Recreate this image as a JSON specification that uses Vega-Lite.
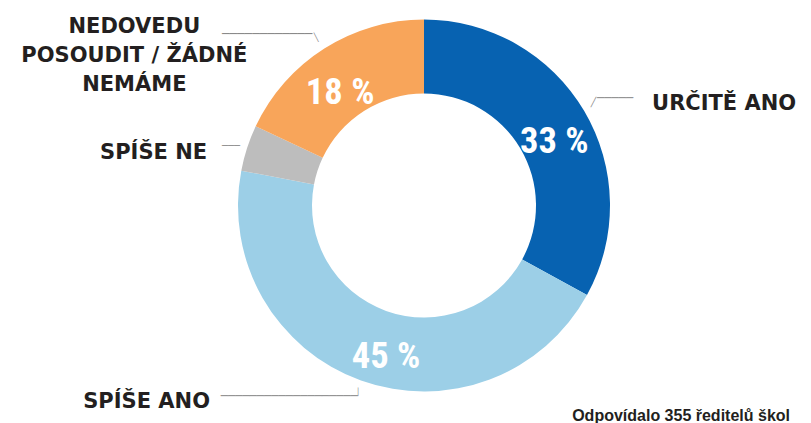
{
  "$schema": "https://vega.github.io/schema/vega-lite/v6.json",
  "width": 811,
  "height": 423,
  "autosize": {"type": "fit", "contains": "padding"},
  "padding": {"left": 37, "right": 0, "top": 0, "bottom": 0},
  "background": "white",
  "view": {"stroke": null},
  "title": {
    "text": "Odpovídalo 355 ředitelů škol",
    "orient": "bottom",
    "anchor": "end",
    "font": "Liberation Sans",
    "fontSize": 16,
    "fontWeight": "bold",
    "color": "#231f20",
    "offset": -4,
    "dx": -21
  },
  "data": {
    "values": [
      {"cat": "Určitě ano", "label": "URČITĚ ANO", "value": 33, "pct": "33 %", "order": 1},
      {"cat": "Spíše ano", "label": "SPÍŠE ANO", "value": 45, "pct": "45 %", "order": 2},
      {"cat": "Spíše ne", "label": "SPÍŠE NE", "value": 4, "pct": "4 %", "order": 3},
      {"cat": "Nedovedu posoudit", "label": ["NEDOVEDU", "POSOUDIT / ŽÁDNÉ", "NEMÁME"], "value": 18, "pct": "18 %", "order": 4}
    ]
  },
  "encoding": {
    "theta": {"field": "value", "type": "quantitative", "stack": true},
    "order": {"field": "order", "type": "quantitative"}
  },
  "layer": [
    {
      "mark": {"type": "arc", "innerRadius": 112, "outerRadius": 186, "stroke": null},
      "encoding": {
        "color": {
          "field": "cat",
          "type": "nominal",
          "scale": {
            "domain": ["Určitě ano", "Spíše ano", "Spíše ne", "Nedovedu posoudit"],
            "range": ["#0762b1", "#9ccfe7", "#bdbdbd", "#f8a55a"]
          },
          "legend": null
        }
      }
    },
    {
      "mark": {"type": "text", "radius": 149, "font": "Roboto Condensed, Roboto", "fontWeight": "bold", "fontSize": 36.5, "color": "white", "align": "center", "baseline": "middle", "dx": 2, "dy": 12},
      "encoding": {"text": {"condition": {"test": "datum.cat === 'Určitě ano'", "field": "pct"}, "value": ""}}
    },
    {
      "mark": {"type": "text", "radius": 149, "font": "Roboto Condensed, Roboto", "fontWeight": "bold", "fontSize": 36.5, "color": "white", "align": "center", "baseline": "middle", "dx": 12.5, "dy": 11.5},
      "encoding": {"text": {"condition": {"test": "datum.cat === 'Spíše ano'", "field": "pct"}, "value": ""}}
    },
    {
      "mark": {"type": "text", "radius": 149, "font": "Roboto Condensed, Roboto", "fontWeight": "bold", "fontSize": 36.5, "color": "white", "align": "center", "baseline": "middle", "dx": -4, "dy": 13},
      "encoding": {"text": {"condition": {"test": "datum.cat === 'Nedovedu posoudit'", "field": "pct"}, "value": ""}}
    },
    {
      "mark": {"type": "text", "radius": 186, "font": "DejaVu Sans", "fontWeight": "bold", "fontSize": 21, "color": "#231f20", "align": "left", "baseline": "middle", "dx": 68, "dy": -7},
      "encoding": {"text": {"condition": {"test": "datum.cat === 'Určitě ano'", "field": "label"}, "value": ""}}
    },
    {
      "mark": {"type": "text", "radius": 186, "font": "DejaVu Sans", "fontWeight": "bold", "fontSize": 21, "color": "#231f20", "align": "right", "baseline": "middle", "dx": -151, "dy": 21},
      "encoding": {"text": {"condition": {"test": "datum.cat === 'Spíše ano'", "field": "label"}, "value": ""}}
    },
    {
      "mark": {"type": "text", "radius": 186, "font": "DejaVu Sans", "fontWeight": "bold", "fontSize": 21, "color": "#231f20", "align": "right", "baseline": "middle", "dx": -40, "dy": 4.5},
      "encoding": {"text": {"condition": {"test": "datum.cat === 'Spíše ne'", "field": "label"}, "value": ""}}
    },
    {
      "mark": {"type": "text", "radius": 186, "font": "DejaVu Sans", "fontWeight": "bold", "fontSize": 21, "lineHeight": 29, "color": "#231f20", "align": "center", "baseline": "middle", "dx": -190, "dy": -21},
      "encoding": {"text": {"condition": {"test": "datum.cat === 'Nedovedu posoudit'", "field": "label"}, "value": ""}}
    },
    {
      "mark": {"type": "text", "radius": 186, "font": "DejaVu Sans", "fontSize": 12, "color": "#8a8a8a", "align": "left", "baseline": "middle", "dx": 13, "dy": -12.5},
      "encoding": {"text": {"condition": {"test": "datum.cat === 'Určitě ano'", "value": "─────"}, "value": ""}}
    },
    {
      "mark": {"type": "text", "radius": 186, "font": "DejaVu Sans", "fontSize": 9, "color": "#8a8a8a", "align": "center", "baseline": "middle", "dx": 9.4, "dy": -8.5},
      "encoding": {"text": {"condition": {"test": "datum.cat === 'Určitě ano'", "value": "╱"}, "value": ""}}
    },
    {
      "mark": {"type": "text", "radius": 186, "font": "DejaVu Sans", "fontSize": 12.5, "color": "#8a8a8a", "align": "right", "baseline": "middle", "dx": -12, "dy": -14},
      "encoding": {"text": {"condition": {"test": "datum.cat === 'Nedovedu posoudit'", "value": "────────────"}, "value": ""}}
    },
    {
      "mark": {"type": "text", "radius": 186, "font": "DejaVu Sans", "fontSize": 8, "color": "#8a8a8a", "align": "center", "baseline": "middle", "dx": -8.3, "dy": -10.5},
      "encoding": {"text": {"condition": {"test": "datum.cat === 'Nedovedu posoudit'", "value": "╲"}, "value": ""}}
    },
    {
      "mark": {"type": "text", "radius": 186, "font": "DejaVu Sans", "fontSize": 10, "color": "#8a8a8a", "align": "right", "baseline": "middle", "dx": -7, "dy": -2},
      "encoding": {"text": {"condition": {"test": "datum.cat === 'Spíše ne'", "value": "───"}, "value": ""}}
    },
    {
      "mark": {"type": "text", "radius": 186, "font": "DejaVu Sans", "fontSize": 12, "color": "#8a8a8a", "align": "right", "baseline": "middle", "dx": -3, "dy": 15.5},
      "encoding": {"text": {"condition": {"test": "datum.cat === 'Spíše ano'", "value": "───────────────────"}, "value": ""}}
    },
    {
      "mark": {"type": "text", "radius": 186, "font": "DejaVu Sans", "fontSize": 7, "color": "#8a8a8a", "align": "center", "baseline": "middle", "dx": -3, "dy": 11.5},
      "encoding": {"text": {"condition": {"test": "datum.cat === 'Spíše ano'", "value": "│"}, "value": ""}}
    }
  ]
}
